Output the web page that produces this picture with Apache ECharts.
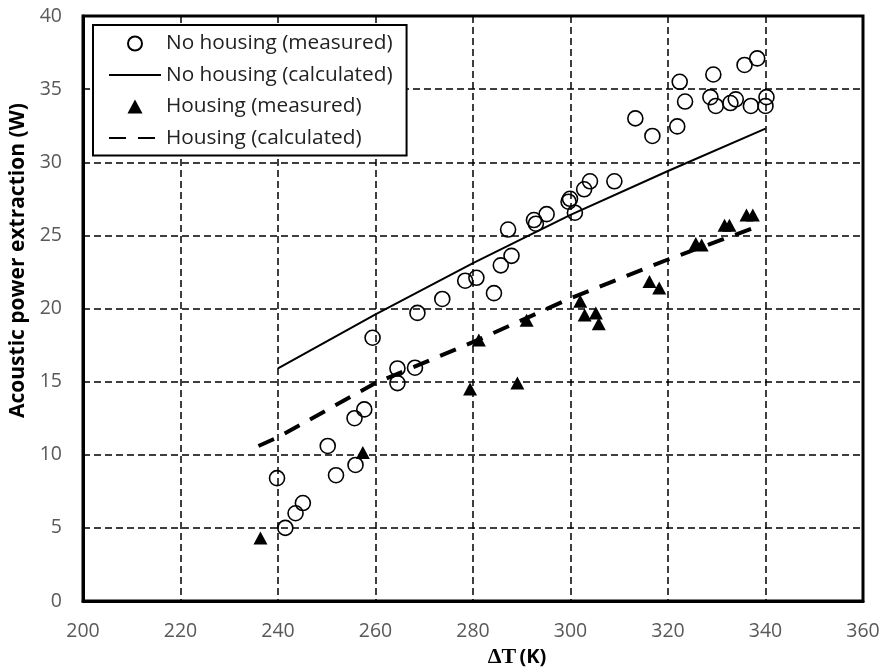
<!DOCTYPE html>
<html>
<head>
<meta charset="utf-8">
<script src="https://cdn.jsdelivr.net/npm/echarts@6/dist/echarts.min.js"></script>
<style>
html,body{margin:0;padding:0;background:#fff;}
#chart{width:885px;height:672px;}
</style>
</head>
<body>
<div id="chart"></div>
<script>
// ---- data ----
const xTicks = [200, 220, 240, 260, 280, 300, 320, 340, 360];
const yTicks = [0, 5, 10, 15, 20, 25, 30, 35, 40];

const noHousingMeasuredX = [239.8, 241.5, 243.6, 245.1, 250.2, 251.9, 255.9, 255.7, 257.7, 259.4,
  264.5, 264.5, 268.1, 268.6, 273.7, 278.4, 280.7, 284.3, 285.7, 287.9, 287.2, 292.5, 292.9,
  295.1, 299.9, 299.6, 300.9, 302.8, 304.0, 309.0, 313.3, 316.8, 321.9, 322.4, 323.5, 329.3,
  328.7, 329.8, 332.8, 333.9, 335.7, 338.3, 337.0, 340.0, 340.2];
const noHousingMeasuredY = [8.4, 5.0, 6.0, 6.7, 10.6, 8.6, 9.3, 12.5, 13.1, 18.0,
  15.9, 14.9, 15.95, 19.7, 20.65, 21.9, 22.1, 21.05, 22.95, 23.6, 25.4, 26.05, 25.8,
  26.45, 27.5, 27.3, 26.55, 28.15, 28.7, 28.7, 33.0, 31.8, 32.45, 35.5, 34.15, 36.0,
  34.45, 33.85, 34.05, 34.3, 36.65, 37.1, 33.85, 33.85, 34.45];

const noHousingCalcX = [240, 260, 280, 300, 320, 340];
const noHousingCalcY = [15.9, 19.6, 23.1, 26.4, 29.4, 32.3];

const housingMeasuredX = [236.4, 257.4, 279.4, 289.1, 281.2, 291.0, 302.0, 302.9, 305.2, 305.8,
  316.2, 318.2, 325.7, 326.9, 331.6, 332.6, 336.1, 337.4];
const housingMeasuredY = [4.3, 10.15, 14.5, 14.9, 17.85, 19.2, 20.5, 19.55, 19.7, 18.95,
  21.85, 21.4, 24.45, 24.35, 25.7, 25.7, 26.4, 26.4];

const housingCalcX = [236, 240, 260, 280, 300, 320, 337.5];
const housingCalcY = [10.6, 11.2, 14.9, 17.7, 20.7, 23.35, 25.5];

const seriesNames = ['No housing (measured)', 'No housing (calculated)', 'Housing (measured)', 'Housing (calculated)'];
const xTitle = 'ΔT';
const xTitleUnit = '(K)';
const yTitle = 'Acoustic power extraction (W)';

const zip = (xs, ys) => xs.map((x, i) => [x, ys[i]]);

const FONT = 'Open Sans';
const TRI_ICON = 'path://M7,0L14,13L0,13Z';
const chart = echarts.init(document.getElementById('chart'), null, {renderer: 'canvas'});
chart.setOption({
  animation: false,
  backgroundColor: '#fff',
  grid: {left: 83, right: 22, top: 16, bottom: 71, containLabel: false, outerBoundsMode: 'none',
    show: true, borderColor: '#000', borderWidth: 3, backgroundColor: 'transparent'},
  legend: {
    orient: 'vertical', left: 93, top: 25,
    padding: [8, 14, 7, 15],
    borderColor: '#000', borderWidth: 2, backgroundColor: '#fff',
    itemWidth: 52, itemHeight: 14, itemGap: 10.5,
    symbolKeepAspect: true,
    textStyle: {fontFamily: FONT, fontSize: 20.8, color: '#222'},
    data: [
      {name: seriesNames[0]},
      {name: seriesNames[1], itemStyle: {opacity: 0}},
      {name: seriesNames[2], icon: TRI_ICON},
      {name: seriesNames[3], itemStyle: {opacity: 0}}
    ]
  },
  xAxis: {
    type: 'value', min: xTicks[0], max: xTicks[xTicks.length - 1], interval: 20,
    axisLine: {show: true, lineStyle: {color: '#000', width: 3}},
    axisTick: {show: false},
    splitLine: {show: true, lineStyle: {color: '#000', width: 1.5, type: [7, 4]}},
    axisLabel: {fontFamily: FONT, fontSize: 19.5, color: '#595959', margin: 20},
    name: '{a|' + xTitle + '} {b|' + xTitleUnit + '}',
    nameLocation: 'middle', nameGap: 44,
    nameTextStyle: {padding: [0, 0, 0, 88],
      rich: {a: {fontFamily: 'Liberation Serif', fontSize: 22, fontWeight: 'bold', color: '#000'},
             b: {fontFamily: FONT, fontSize: 20, fontWeight: 'bold', color: '#000'}}}
  },
  yAxis: {
    type: 'value', min: yTicks[0], max: yTicks[yTicks.length - 1], interval: 5,
    axisLine: {show: true, lineStyle: {color: '#000', width: 3}},
    axisTick: {show: false},
    splitLine: {show: true, lineStyle: {color: '#000', width: 1.5, type: [7, 4]}},
    axisLabel: {fontFamily: FONT, fontSize: 19.5, color: '#595959', margin: 21},
    name: yTitle, nameLocation: 'middle', nameGap: 51,
    nameTextStyle: {fontFamily: FONT, fontSize: 21, fontWeight: 'bold', color: '#000', padding: [0, 0, 0, 96]}
  },
  series: [
    {
      name: seriesNames[0], type: 'scatter', data: zip(noHousingMeasuredX, noHousingMeasuredY),
      symbol: 'circle', symbolSize: 15, symbolKeepAspect: true, z: 5,
      itemStyle: {color: 'rgba(255,255,255,0)', borderColor: '#000', borderWidth: 1.6, opacity: 1}
    },
    {
      name: seriesNames[1], type: 'line', data: zip(noHousingCalcX, noHousingCalcY),
      symbol: 'none', showSymbol: false, smooth: false, z: 4,
      lineStyle: {color: '#000', width: 2, type: 'solid'}, itemStyle: {color: '#000'}
    },
    {
      name: seriesNames[2], type: 'scatter', data: zip(housingMeasuredX, housingMeasuredY),
      symbol: 'triangle', symbolSize: [14, 13], symbolKeepAspect: true, z: 5,
      itemStyle: {color: '#000', opacity: 1}
    },
    {
      name: seriesNames[3], type: 'line', data: zip(housingCalcX, housingCalcY),
      symbol: 'none', showSymbol: false, smooth: false, z: 4,
      lineStyle: {color: '#000', width: 4, type: [17, 12]}, itemStyle: {color: '#000'}
    }
  ]
});
</script>
</body>
</html>
